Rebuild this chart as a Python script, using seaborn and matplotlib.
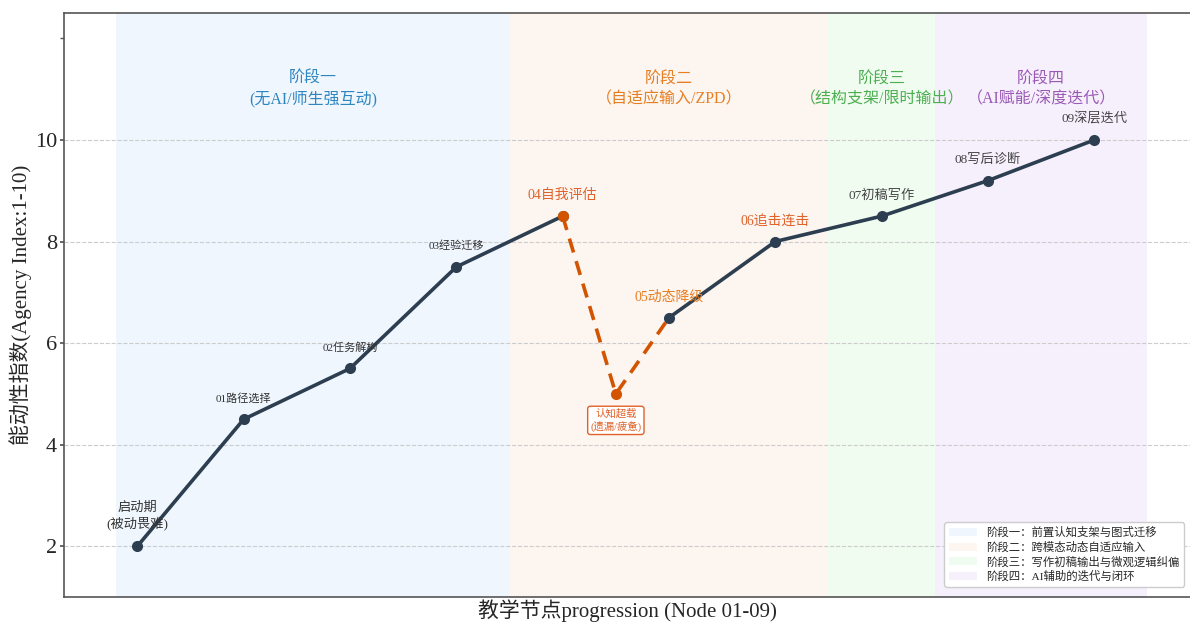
import numpy as np
import pandas as pd
import matplotlib
matplotlib.use('Agg')
import matplotlib.pyplot as plt
import seaborn as sns
from matplotlib.patches import Patch

# ============================================================================
# DATA
# ============================================================================
node_x = [0, 1, 2, 3, 4, 5, 6, 7, 8, 9]
agency = [2.0, 4.5, 5.5, 7.5, 8.5, 6.5, 8.0, 8.5, 9.2, 10.0]
node_labels = ['启动期\n(被动畏难)', '01路径选择', '02任务解构', '03经验迁移', '04自我评估',
               '05动态降级', '06追击连击', '07初稿写作', '08写后诊断', '09深层迭代']

overload_x = 4.5
overload_y = 5.0
overload_label = '认知超载\n(遗漏/疲惫)'

phase_bounds = [(-0.2, 3.5), (3.5, 6.5), (6.5, 7.5), (7.5, 9.5)]
phase_titles = ['阶段一\n(无AI/师生强互动)', '阶段二\n（自适应输入/ZPD）',
                '阶段三\n（结构支架/限时输出）', '阶段四\n（AI赋能/深度迭代）']
phase_legend = ['阶段一：前置认知支架与图式迁移', '阶段二：跨模态动态自适应输入',
                '阶段三：写作初稿输出与微观逻辑纠偏', '阶段四：AI辅助的迭代与闭环']

# ============================================================================
# STYLE
# ============================================================================
sns.set_theme(style='white')
plt.rcParams['font.family'] = ['Liberation Serif', 'Noto Sans CJK SC', 'DejaVu Sans']
plt.rcParams['axes.unicode_minus'] = False

navy = '#2c3e50'
burnt = '#d35400'
phase_fill = ['#eff6fe', '#fdf5f0', '#f1fcf1', '#f6f0fd']
phase_text = ['#2e86c1', '#e67e22', '#4caf50', '#9b59b6']
label_colors = ['#333333', '#333333', '#333333', '#333333', '#e0622a',
                '#e67e22', '#e0622a', '#444444', '#444444', '#444444']
label_sizes = [9.5, 8, 8, 8, 10, 10, 10, 9.5, 9.5, 9.5]

fig = plt.figure(figsize=(11.9, 6.22), dpi=100)
ax = fig.add_axes([64 / 1190, 25 / 622, 1126 / 1190, 584 / 622])

# phase backgrounds
for (x0, x1), fc in zip(phase_bounds, phase_fill):
    ax.axvspan(x0, x1, color=fc, zorder=0, lw=0)

for (x0, x1), title, tc in zip(phase_bounds, phase_titles, phase_text):
    ax.text((x0 + x1) / 2, 11.0, title, ha='center', va='center',
            fontsize=11.5, color=tc, linespacing=1.3)

# ============================================================================
# LINES
# ============================================================================
df = pd.DataFrame({'node': node_x, 'agency': agency})
seg1 = df[df['node'] <= 4]
seg2 = df[df['node'] >= 5]
drop = pd.DataFrame({'node': [4, overload_x, 5],
                     'agency': [agency[4], overload_y, agency[5]]})

sns.lineplot(data=seg1, x='node', y='agency', ax=ax, color=navy, lw=2.6,
             marker='o', markersize=8, markeredgewidth=0, sort=False, zorder=3)
sns.lineplot(data=drop, x='node', y='agency', ax=ax, color=burnt, lw=2.6,
             linestyle=(0, (4, 2.5)), sort=False, zorder=3)
sns.scatterplot(x=[4, overload_x], y=[agency[4], overload_y], ax=ax,
                color=burnt, s=64, linewidth=0, zorder=4)
sns.lineplot(data=seg2, x='node', y='agency', ax=ax, color=navy, lw=2.6,
             marker='o', markersize=8, markeredgewidth=0, sort=False, zorder=3)

# node labels
for x, y, lab, c, fs in zip(node_x, agency, node_labels, label_colors, label_sizes):
    off = 22 if '\n' in lab else 15
    ax.annotate(lab, (x, y), xytext=(0, off), textcoords='offset points',
                ha='center', va='center', fontsize=fs, color=c, linespacing=1.2)

ax.annotate(overload_label, (overload_x, overload_y), xytext=(0, -19),
            textcoords='offset points', ha='center', va='center', fontsize=7.5,
            color='#e0622a', linespacing=1.2,
            bbox=dict(boxstyle='round,pad=0.25', fc='white', ec='#e0622a', lw=1))

# ============================================================================
# AXES
# ============================================================================
ax.set_xlim(-0.69, 9.9)
ax.set_ylim(1.0, 12.5)
ax.set_xticks([])
ax.set_yticks([2, 4, 6, 8, 10])
ax.set_yticks([12], minor=True)
ax.tick_params(axis='y', which='both', labelsize=16, length=3, left=True,
               color='#555555', pad=2)
ax.yaxis.grid(True, linestyle='--', color='#cccccc', lw=0.8)
ax.set_axisbelow(True)

for s in ax.spines.values():
    s.set_color('#555555')
    s.set_linewidth(1.2)
ax.spines['right'].set_visible(False)  # right edge is cropped off in the original

ax.set_xlabel('教学节点progression (Node 01-09)', fontsize=15, labelpad=2)
ax.set_ylabel('能动性指数(Agency Index:1-10)', fontsize=15, labelpad=2)

handles = [Patch(facecolor=fc, edgecolor='none') for fc in phase_fill]
ax.legend(handles, phase_legend, loc='lower right', bbox_to_anchor=(1.0, 0.008),
          fontsize=8.2, frameon=True, edgecolor='#cccccc', fancybox=True,
          handlelength=2.5, borderpad=0.4, labelspacing=0.3, framealpha=1)

fig.savefig('out.png', dpi=100)
